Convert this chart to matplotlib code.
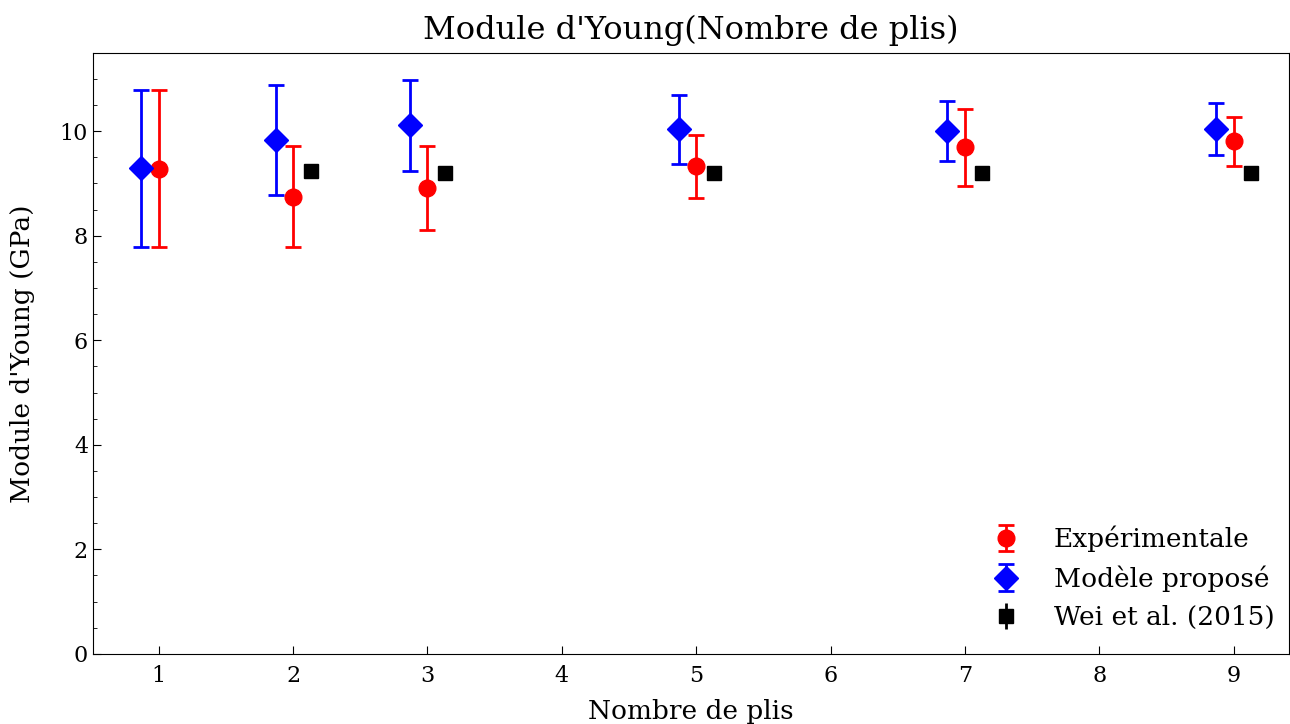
import matplotlib
matplotlib.use("Agg")
import matplotlib.pyplot as plt
from matplotlib.ticker import MultipleLocator
import numpy as np

plt.rcParams['font.family'] = ['DejaVu Serif']

plis = [1, 2, 3, 5, 7, 9]
exp_vals = [9.28, 8.75, 8.91, 9.33, 9.69, 9.81]
exp_err = [1.50, 0.96, 0.80, 0.60, 0.74, 0.47]
mod_vals = [9.29, 9.83, 10.11, 10.04, 10.00, 10.04]
mod_err = [1.50, 1.05, 0.87, 0.66, 0.57, 0.50]
wei_plis = [2, 3, 5, 7, 9]
wei_vals = [9.23, 9.21, 9.20, 9.20, 9.20]

fig = plt.figure(figsize=(12.9, 7.24), dpi=100)
ax = fig.add_axes([0.072, 0.097, 0.927, 0.83])

x = np.array(plis, dtype=float)
xw = np.array(wei_plis, dtype=float)

ax.errorbar(x, exp_vals, yerr=exp_err, fmt='o', color='red', markersize=12,
            elinewidth=2, capsize=6, capthick=2, label='Expérimentale')
ax.errorbar(x - 0.13, mod_vals, yerr=mod_err, fmt='D', color='blue', markersize=12,
            elinewidth=2, capsize=6, capthick=2, label='Modèle proposé')
ax.errorbar(xw + 0.13, wei_vals, yerr=np.zeros(len(wei_vals)), fmt='s', color='black',
            markersize=10, elinewidth=2, capsize=0, label='Wei et al. (2015)')

ax.set_xlim(0.51, 9.41)
ax.set_ylim(0, 11.5)
ax.set_xticks(range(1, 10))
ax.yaxis.set_major_locator(MultipleLocator(2))
ax.yaxis.set_minor_locator(MultipleLocator(0.5))
ax.tick_params(which='both', direction='in', labelsize=16)
ax.tick_params(which='major', length=6)
ax.tick_params(which='minor', length=3)
ax.tick_params(axis='x', pad=8)

ax.set_title("Module d'Young(Nombre de plis)", fontsize=23, pad=10)
ax.set_xlabel("Nombre de plis", fontsize=19, labelpad=9)
ax.set_ylabel("Module d'Young (GPa)", fontsize=19)
ax.yaxis.set_label_coords(-0.048, 0.5)

ax.legend(loc='lower right', fontsize=19, frameon=False, bbox_to_anchor=(1.008, 0.0))

fig.savefig('out.png', dpi=100)
